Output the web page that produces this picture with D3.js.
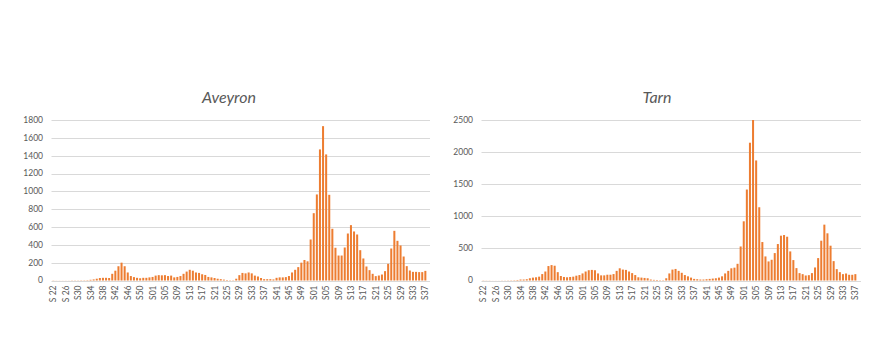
<!DOCTYPE html>
<html>
<head>
<meta charset="utf-8">
<script src="https://cdn.jsdelivr.net/npm/d3@7"></script>
<style>
  html, body { margin: 0; padding: 0; background: #ffffff; }
  svg { display: block; font-family: Lato, "Open Sans", "Liberation Sans", sans-serif; }
</style>
</head>
<body>
<svg id="chart" width="870" height="350"></svg>
<script>
// ISO week numbers covered by the series (S22 2020 -> S37 2022)
const weeks2020 = [22,23,24,25,26,27,28,29,30,31,32,33,34,35,36,37,38,39,40,41,42,43,44,45,46,47,48,49,50,51,52,53];
const weeks2021 = [1,2,3,4,5,6,7,8,9,10,11,12,13,14,15,16,17,18,19,20,21,22,23,24,25,26,27,28,29,30,31,32,33,34,35,36,37,38,39,40,41,42,43,44,45,46,47,48,49,50,51,52];
const weeks2022 = [1,2,3,4,5,6,7,8,9,10,11,12,13,14,15,16,17,18,19,20,21,22,23,24,25,26,27,28,29,30,31,32,33,34,35,36,37];

// Weekly cases, Aveyron
const aveyron2020 = [2,1,1,1,1,1,2,2,2,3,3,4,8,12,20,28,30,30,28,75,110,160,200,160,90,50,38,30,25,30,30,35];
const aveyron2021 = [40,55,60,58,60,50,55,35,40,50,75,100,120,110,90,85,70,62,40,35,28,20,15,10,5,3,3,20,60,85,80,90,80,55,45,28,15,15,15,12,30,35,35,38,50,90,120,150,200,230,215,460];
const aveyron2022 = [755,965,1470,1731,1414,961,580,367,280,280,370,527,621,550,516,340,247,157,116,75,49,56,67,105,187,359,557,445,393,269,161,112,97,97,94,94,108];

// Weekly cases, Tarn
const tarn2020 = [3,2,2,1,1,1,2,2,3,4,5,8,15,15,20,35,45,50,60,100,140,225,240,230,130,70,55,50,55,60,75,85];
const tarn2021 = [110,140,160,165,160,110,80,80,90,90,100,150,190,170,165,140,115,85,50,45,40,35,15,10,8,5,5,35,110,170,180,150,120,85,65,45,25,20,15,15,20,25,30,35,45,65,110,150,190,200,260,530];
const tarn2022 = [922,1417,2146,2500,1870,1141,599,375,297,323,427,568,698,708,682,453,318,193,115,99,78,83,115,203,349,620,870,735,542,302,177,130,99,109,89,89,99];

// Axis tick labels (every fourth week)
const tickLabels = ["S 22","S 26","S30","S34","S38","S42","S46","S50","S01","S05","S09","S13","S17","S21","S25","S29","S33","S37","S41","S45","S49","S01","S05","S09","S13","S17","S21","S25","S29","S33","S37"];
const aveyronTicks = [0,200,400,600,800,1000,1200,1400,1600,1800];
const tarnTicks = [0,500,1000,1500,2000,2500];

const categories = [
  ...weeks2020.map(w => "2020-" + w),
  ...weeks2021.map(w => "2021-" + w),
  ...weeks2022.map(w => "2022-" + w)
];

const panels = [
  { title: "Aveyron", values: [...aveyron2020, ...aveyron2021, ...aveyron2022], ticks: aveyronTicks,
    gridX: [51.5, 430], band: [51.8, 426.9], labelX: 43, titleX: 229 },
  { title: "Tarn", values: [...tarn2020, ...tarn2021, ...tarn2022], ticks: tarnTicks,
    gridX: [481.5, 861], band: [481.8, 856.9], labelX: 473, titleX: 657 }
];

const svg = d3.select("#chart");
const textColor = "#595959";
const gridColor = "#d9d9d9";
const barColor = "#ed7d31";

panels.forEach(p => {
  const g = svg.append("g");

  const x = d3.scaleBand()
    .domain(categories)
    .range(p.band)
    .paddingInner(0.35)
    .paddingOuter(0.175);

  const y = d3.scaleLinear()
    .domain([0, d3.max(p.ticks)])
    .range([280.5, 120]);

  // Horizontal gridlines
  g.selectAll("line.grid")
    .data(p.ticks)
    .join("line")
    .attr("class", "grid")
    .attr("x1", p.gridX[0]).attr("x2", p.gridX[1])
    .attr("y1", d => Math.round(y(d)) + 0.5)
    .attr("y2", d => Math.round(y(d)) + 0.5)
    .attr("stroke", gridColor)
    .attr("stroke-width", 1);

  // Value axis labels
  g.selectAll("text.ylab")
    .data(p.ticks)
    .join("text")
    .attr("class", "ylab")
    .attr("x", p.labelX)
    .attr("y", d => y(d))
    .attr("dy", "0.35em")
    .attr("text-anchor", "end")
    .attr("font-size", 8.5)
    .attr("fill", textColor)
    .text(d => d);

  // Bars
  g.selectAll("rect.bar")
    .data(p.values)
    .join("rect")
    .attr("class", "bar")
    .attr("x", (d, i) => x(categories[i]))
    .attr("width", x.bandwidth())
    .attr("y", d => y(d))
    .attr("height", d => y(0) - y(d))
    .attr("fill", barColor);

  // Category axis labels, rotated
  const tickCats = categories.filter((c, i) => i % 4 === 0);
  g.selectAll("text.xlab")
    .data(tickCats)
    .join("text")
    .attr("class", "xlab")
    .attr("transform", d => `translate(${x(d) + x.bandwidth() / 2},285.5) rotate(-90)`)
    .attr("dy", "0.35em")
    .attr("text-anchor", "end")
    .attr("font-size", 8.5)
    .attr("fill", textColor)
    .text((d, i) => tickLabels[i]);

  // Title
  g.append("text")
    .attr("x", p.titleX)
    .attr("y", 103)
    .attr("text-anchor", "middle")
    .attr("font-size", 16)
    .attr("font-style", "italic")
    .attr("fill", textColor)
    .text(p.title);
});
</script>
</body>
</html>
